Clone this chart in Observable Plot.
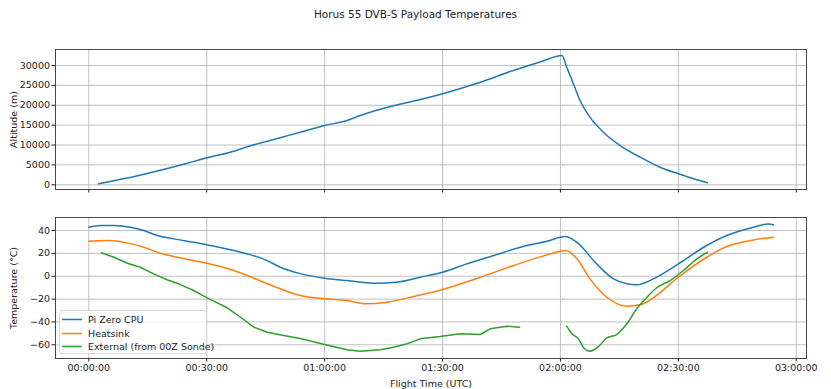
<!DOCTYPE html>
<html><head><meta charset="utf-8">
<script src="https://cdn.jsdelivr.net/npm/d3@7"></script>
<script src="https://cdn.jsdelivr.net/npm/@observablehq/plot@0.6"></script>
<style>
body{margin:0;background:#fff;font-family:"DejaVu Sans",sans-serif;}
#wrap{position:relative;width:831px;height:389px;overflow:hidden;}
#title{position:absolute;top:8px;left:0;width:831px;text-align:center;font-size:10.5px;color:#222;}
#p1,#p2{position:absolute;left:0;}
#p1{top:0}
#p2{top:195px}
#legend{position:absolute;left:59px;top:310px;width:146px;height:42px;border:1px solid #d8d8d8;border-radius:3px;background:rgba(255,255,255,0.8);font-size:9.5px;color:#222;}
.li{position:absolute;left:0;height:13px;line-height:13px;}
.li svg{position:absolute;left:2px;top:0;}
.li span.tx{position:absolute;left:28px;top:0;white-space:nowrap;}
</style></head>
<body>
<div id="wrap">
<div id="title">Horus 55 DVB-S Payload Temperatures</div>
<div id="p1"></div>
<div id="p2"></div>
<div id="legend"></div>
</div>
<script>
// ---- data (minutes since 00:00:00 UTC) ----
const altTime = [2.5,12.7,24.6,30.1,36,42,48.7,53.8,60,65.7,69.1,90,99.6,108,115,120.4,121.6,123.3,125,127.5,130.9,135.2,140.3,145.3,150,154.7,157.4];
const altValue = [250,2340,5280,6790,8200,10060,11820,13230,14910,16170,17430,22880,25800,28740,30950,32515,29570,25400,21200,17000,13230,9880,6940,4430,2770,1260,500];

const cpuTime = [0,3,6.4,10.6,14,17.4,21.6,26.7,30.1,36.9,45.4,48.7,53.8,60,65.7,72.4,78.4,84.3,90,96.2,103,109.8,116.6,121.2,124.2,129.2,133.5,136.9,139.4,143.6,150,157.2,162.3,169.1,172.9,174.2];
const cpuTemp = [42.9,44.4,44.4,42.9,40,35.6,32.7,29.7,27.5,22.5,13.7,7.9,2.3,-1.7,-3.8,-6.1,-5.2,-0.9,3.5,10.8,18.1,25.4,30.6,34.7,29.7,10.8,-2.3,-6.6,-7.5,-2.3,10.8,26.9,35.6,42.9,45.8,45];

const hsTime = [0,4.7,9.7,14,18.2,22.5,26.7,30.1,36.9,45.4,48.7,53.8,60,65.7,70.3,75.9,82.6,90,99.6,108.1,116.6,121.4,124.2,127.5,131.8,136.9,140.3,143.6,150,157.2,162.3,169.1,174.2];
const hsTemp = [30.6,31.2,29.2,25.4,20.1,16.6,13.7,11.4,5.0,-6.6,-11,-16.9,-19.8,-21.3,-24.1,-22.7,-17.8,-11.6,-0.9,9.4,18.7,22.5,15.2,-2.3,-18.4,-26.2,-25,-18.9,-0.9,16.6,26,31.8,34.1];

const extTime1 = [3.2,6.4,9.8,13.1,16.5,19.9,23.3,26.7,30.1,35.2,38.6,42,45.4,49.6,53.8,60,65.7,69.1,74.2,77.5,81,84.3,89.4,94.5,99.6,102.1,106.4,109.6];
const extTemp1 = [20.5,16.6,11.4,7.9,2.1,-3.1,-7.3,-12.5,-18.9,-27.6,-35.9,-44.6,-49,-51.9,-54.5,-59.8,-64.4,-65.6,-64.4,-62.1,-59.1,-54.8,-52.8,-50.4,-51,-46,-43.7,-44.6];
const extTime2 = [121.6,122.9,124.6,125.8,127.5,129.7,131.8,134.3,136.9,139.4,142,144.5,147.9,151.3,154.7,157.4];
const extTemp2 = [-43.7,-50.4,-54.8,-62.1,-65.6,-61.5,-53.9,-51,-41.6,-28.5,-18.4,-10.1,-3.8,5.0,15.2,21];

const seriesNames = ["Pi Zero CPU","Heatsink","External (from 00Z Sonde)"];
const seriesColors = ["#1f77b4","#ff7f0e","#2ca02c"];
const xTicks = [0,30,60,90,120,150,180];
const xTickLabels = ["00:00:00","00:30:00","01:00:00","01:30:00","02:00:00","02:30:00","03:00:00"];
const altTicks = [0,5000,10000,15000,20000,25000,30000];
const tempTicks = [-60,-40,-20,0,20,40];

const zip = (t, v) => t.map((x, i) => ({t: x, v: v[i]}));
const xDomain = [-8.47, 182.6];
const font = "DejaVu Sans";
const gridStyle = {stroke: "#b0b0b0", strokeOpacity: 1, strokeWidth: 0.8};
const lw = 1.5;

const p1 = Plot.plot({
  width: 831, height: 195,
  marginTop: 49, marginBottom: 6, marginLeft: 55, marginRight: 25,
  style: {fontFamily: font, fontSize: "9.5px", color: "#222", background: "transparent"},
  x: {domain: xDomain},
  y: {domain: [-1180, 34020]},
  marks: [
    Plot.gridX(xTicks, gridStyle),
    Plot.gridY(altTicks, gridStyle),
    Plot.axisX(xTicks, {tickFormat: () => "", tickSize: 3.5, label: null}),
    Plot.axisY(altTicks, {tickFormat: d => String(d), tickSize: 3.5, tickPadding: 2,
      label: "Altitude (m)", labelAnchor: "center", labelArrow: "none", labelOffset: 45}),
    Plot.line(zip(altTime, altValue), {x: "t", y: "v", stroke: seriesColors[0], strokeWidth: lw, curve: "monotone-x"}),
    Plot.frame({stroke: "#333", strokeWidth: 0.9})
  ]
});
document.getElementById("p1").appendChild(p1);

const p2 = Plot.plot({
  width: 831, height: 194,
  marginTop: 22, marginBottom: 31, marginLeft: 55, marginRight: 25,
  style: {fontFamily: font, fontSize: "9.5px", color: "#222", background: "transparent"},
  x: {domain: xDomain},
  y: {domain: [-72, 51.4]},
  marks: [
    Plot.gridX(xTicks, gridStyle),
    Plot.gridY(tempTicks, gridStyle),
    Plot.axisX(xTicks, {tickFormat: d => xTickLabels[xTicks.indexOf(d)], tickSize: 3.5, tickPadding: 2,
      label: "Flight Time (UTC)", labelAnchor: "center", labelArrow: "none", labelOffset: 28}),
    Plot.axisY(tempTicks, {tickSize: 3.5, tickPadding: 2,
      label: "Temperature (°C)", labelAnchor: "center", labelArrow: "none", labelOffset: 45}),
    Plot.line(zip(cpuTime, cpuTemp), {x: "t", y: "v", stroke: seriesColors[0], strokeWidth: lw, curve: "monotone-x"}),
    Plot.line(zip(hsTime, hsTemp), {x: "t", y: "v", stroke: seriesColors[1], strokeWidth: lw, curve: "monotone-x"}),
    Plot.line(zip(extTime1, extTemp1), {x: "t", y: "v", stroke: seriesColors[2], strokeWidth: lw}),
    Plot.line(zip(extTime2, extTemp2), {x: "t", y: "v", stroke: seriesColors[2], strokeWidth: lw, curve: "monotone-x"}),
    Plot.frame({stroke: "#333", strokeWidth: 0.9})
  ]
});
document.getElementById("p2").appendChild(p2);

const leg = document.getElementById("legend");
seriesNames.forEach((n, i) => {
  const d = document.createElement("div");
  d.className = "li";
  d.style.top = (2 + i * 13.5) + "px";
  d.innerHTML = `<svg width="22" height="13"><line x1="0" x2="20" y1="6.5" y2="6.5" stroke="${seriesColors[i]}" stroke-width="1.5"/></svg><span class="tx">${n}</span>`;
  leg.appendChild(d);
});
</script>
</body></html>
